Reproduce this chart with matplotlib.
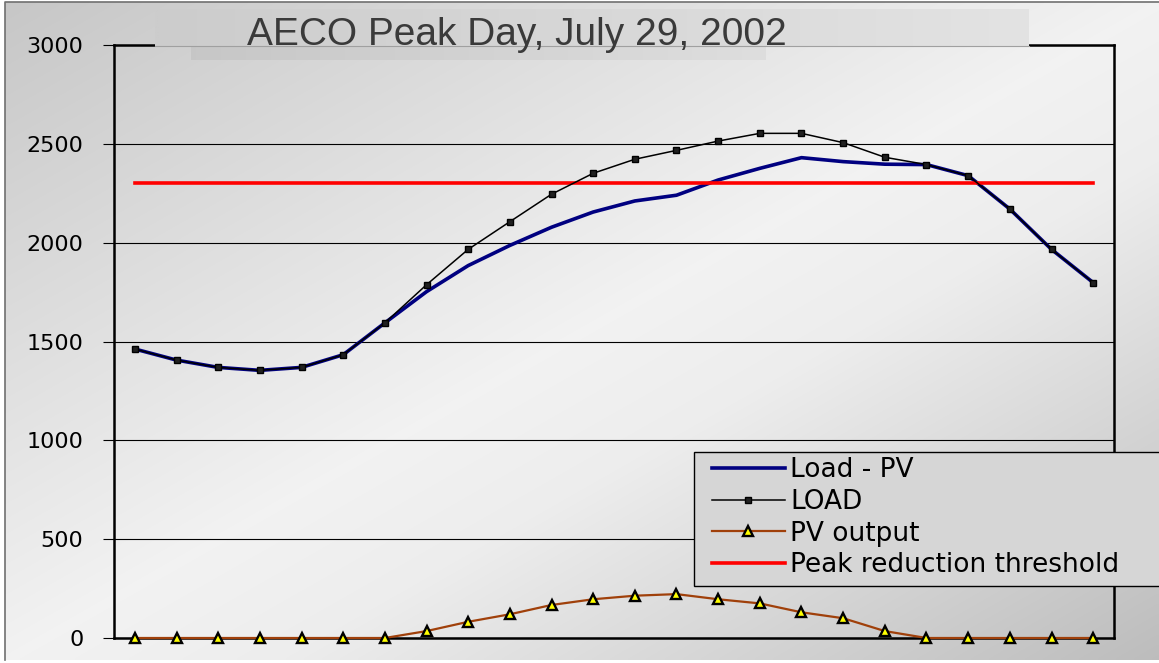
import numpy as np
import matplotlib
matplotlib.use("Agg")
import matplotlib.pyplot as plt
from matplotlib.patches import Rectangle

# hourly values
hours = list(range(1, 25))
load = [1462, 1406, 1369, 1354, 1369, 1433, 1594, 1787, 1966, 2106, 2245, 2351,
        2422, 2467, 2514, 2553, 2553, 2506, 2432, 2395, 2339, 2170, 1966, 1798]
load_minus_pv = [1462, 1406, 1369, 1354, 1369, 1433, 1594, 1752, 1884, 1986, 2078, 2155,
                 2211, 2240, 2317, 2376, 2430, 2410, 2397, 2395, 2339, 2170, 1966, 1798]
pv_output = [0, 0, 0, 0, 0, 0, 0, 35, 82, 120, 167, 196,
             214, 222, 196, 175, 130, 100, 35, 0, 0, 0, 0, 0]
threshold = [2300] * 24
y_ticks = [0, 500, 1000, 1500, 2000, 2500, 3000]
title = "AECO Peak Day, July 29, 2002"
labels = ["Load - PV", "LOAD", "PV output", "Peak reduction threshold"]

W, H = 1159, 663
plt.rcParams['font.family'] = ['DejaVu Sans']


def hgrad(axis, x0, y0, x1, y1, c0, c1):
    # horizontal grey gradient box in pixel coordinates
    g = np.linspace(c0, c1, 100)[None, :]
    axis.imshow(np.dstack([g] * 3), extent=(x0, x1, y1, y0), aspect="auto",
                interpolation="bilinear")


fig = plt.figure(figsize=(W / 100, H / 100), dpi=100)
fig.patch.set_facecolor("white")

# background gradient (dark top-left, light middle, dark bottom-right)
bg = fig.add_axes([0, 0, 1, 1], zorder=-10)
xx, yy = np.meshgrid(np.linspace(0, 1, 300), np.linspace(0, 1, 200))
t = (xx + yy) / 2
shade = np.interp(t, [0, 0.5, 0.62, 1], [0.78, 0.95, 0.93, 0.74])
bg.imshow(np.dstack([shade] * 3), extent=(5, W, 660, 2), aspect="auto",
          interpolation="bilinear")
bg.plot([5, 5, W], [660, 2, 2], color="#707070", lw=1.2)
bg.set_xlim(0, W)
bg.set_ylim(H, 0)
bg.axis("off")

ax = fig.add_axes([114 / W, (H - 638) / H, 1000 / W, 593 / H])
ax.patch.set_alpha(0)

h_blue, = ax.plot(hours, load_minus_pv, color="#000080", lw=2.6, zorder=2)
h_red, = ax.plot(hours, threshold, color="#ff0000", lw=2.6, zorder=3)
h_load, = ax.plot(hours, load, color="black", lw=1.1, marker="s", ms=4.2,
                  mfc="#202020", mec="black", zorder=4)
h_pv, = ax.plot(hours, pv_output, color="#a0400a", lw=1.6, marker="^", ms=7.5,
                mfc="#ffff00", mec="black", mew=1.7, zorder=5, clip_on=False)

ax.set_xlim(0.5, 24.5)
ax.set_ylim(0, 3000)
ax.set_yticks(y_ticks)
ax.set_xticks([])
ax.yaxis.grid(True, color="black", lw=0.8)
ax.set_axisbelow(True)
ax.tick_params(axis="y", length=8, width=0.8, pad=14, labelsize=16)
for s in ax.spines.values():
    s.set_linewidth(1.8)
    s.set_color("black")

# title boxes and legend frame drawn on top of the plot frame
over = fig.add_axes([0, 0, 1, 1], zorder=5)
hgrad(over, 191, 46, 766, 60, 0.78, 0.87)
hgrad(over, 155, 9, 1029, 46, 0.80, 0.89)
box = Rectangle((155, 9), 874, 37, facecolor="none", edgecolor="none")
over.add_patch(box)
over.plot([155, 1029], [46, 46], color="#a0a0a0", lw=0.8)
ttl = over.text(517, 45, title, ha="center", va="baseline", fontsize=28,
                family="Liberation Sans", color="#3a3a3a")
ttl.set_clip_path(box)

over.add_patch(Rectangle((694, 452), 520, 134, facecolor="#d6d6d6",
                         edgecolor="black", lw=1.0))
over.set_xlim(0, W)
over.set_ylim(H, 0)
over.axis("off")

leg = fig.legend([h_blue, h_load, h_pv, h_red], labels, loc="upper left",
                 bbox_to_anchor=(712 / W, 1 - 457 / H), borderaxespad=0,
                 fontsize=19, handlelength=2.75, handletextpad=0.22,
                 labelspacing=0.22, borderpad=0, frameon=False, numpoints=1)
leg.set_zorder(10)

fig.savefig("out.png", dpi=100)
